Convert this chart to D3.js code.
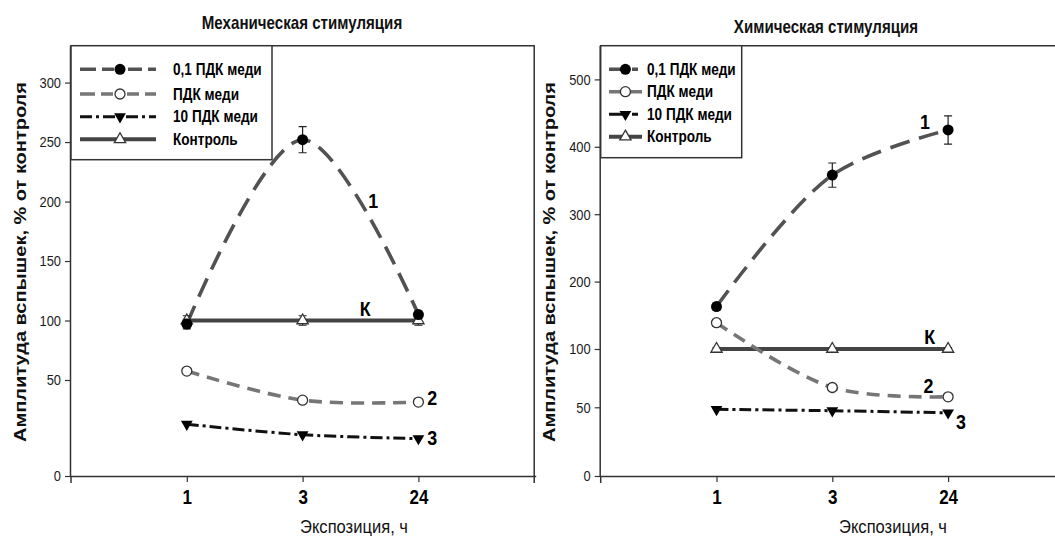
<!DOCTYPE html>
<html><head><meta charset="utf-8">
<script src="https://cdn.jsdelivr.net/npm/d3@7"></script>
<style>
body{margin:0;background:#fff;}
svg{display:block;}
</style></head>
<body>
<svg id="chart" width="1055" height="536"></svg>
<script>
// ---------- DATA ----------
const categories = ["1", "3", "24"];
const seriesNames = ["0,1 ПДК меди", "ПДК меди", "10 ПДК меди", "Контроль"];

const mechTicks = [0, 50, 100, 150, 200, 250, 300];
const mechLow = [97, 252, 105];
const mechLowErr = [4, 11, 3];
const mechPdk = [57.5, 39.5, 38.5];
const mechPdkErr = [2, 1, 1];
const mech10 = [27, 21.5, 19.5];
const mechCtrl = [100, 100, 100];
const mechCtrlErr = [4, 4, 4];

const chemTicks = [0, 50, 100, 200, 300, 400, 500];
const chemLow = [163, 358, 425];
const chemLowErr = [5, 18, 21];
const chemPdk = [139, 67, 59];
const chemPdkErr = [5, 1, 1];
const chem10 = [48.5, 47.5, 46];
const chemCtrl = [100, 100, 100];
const chemCtrlErr = [2, 2, 2];

const curveLabels = ["1", "2", "3", "К"];

// ---------- DRAW ----------
const svg = d3.select("#chart");
const FONT = "'Liberation Sans',Arial,sans-serif";
const NX = 0.85; // horizontal squeeze to imitate a narrow face

const styles = [
  {stroke:"#525252", width:3.6, dash:"20,10", marker:"circleFill"},
  {stroke:"#767676", width:3.6, dash:"13,8", marker:"circleOpen"},
  {stroke:"#111", width:3, dash:"12,4,3,4", marker:"triDown"},
  {stroke:"#444", width:4, dash:null, marker:"triUp"}
];

function txt(g, x, y, str, size, weight, anchor, sx) {
  return g.append("text").attr("transform", `translate(${x},${y}) scale(${sx},1)`)
    .attr("text-anchor", anchor).attr("font-family", FONT).attr("font-size", size)
    .attr("font-weight", weight).attr("fill", "#111").text(str);
}

function drawMarker(g, type, x, y) {
  if (type === "circleFill") {
    g.append("circle").attr("cx", x).attr("cy", y).attr("r", 5.5).attr("fill", "#000");
  } else if (type === "circleOpen") {
    g.append("circle").attr("cx", x).attr("cy", y).attr("r", 5).attr("fill", "#fff").attr("stroke", "#333").attr("stroke-width", 1.3);
  } else if (type === "triDown") {
    g.append("path").attr("d", d3.symbol(d3.symbolTriangle, 60)()).attr("transform", `translate(${x},${y}) rotate(180)`).attr("fill", "#000");
  } else {
    g.append("path").attr("d", d3.symbol(d3.symbolTriangle, 55)()).attr("transform", `translate(${x},${y})`).attr("fill", "#fff").attr("stroke", "#333").attr("stroke-width", 1.3);
  }
}

function panel(cfg) {
  const g = svg.append("g");
  const x = d3.scaleLinear().domain([0, 1]).range([cfg.left, cfg.left + cfg.step]);
  const y = d3.scaleLinear().domain(cfg.yDomain).range(cfg.yRange);
  const top = cfg.yRange[cfg.yRange.length - 1], bottom = cfg.yRange[0];
  const right = cfg.right != null ? cfg.right : x(4);

  // frame
  g.append("path").attr("d", `M${cfg.left},${top}H${right}` + (cfg.closeRight ? `V${bottom + 7}` : ""))
    .attr("fill", "none").attr("stroke", "#333").attr("stroke-width", 1.5);

  // y axis
  const ya = g.append("g").attr("transform", `translate(${cfg.left},0)`)
    .call(d3.axisLeft(y).tickValues(cfg.ticks).tickSize(6).tickPadding(4));
  ya.select(".domain").attr("d", `M-0.5,${top}V${bottom}`).attr("stroke", "#333").attr("stroke-width", 1.5);
  ya.selectAll(".tick line").attr("stroke", "#333").attr("stroke-width", 1.2);
  ya.selectAll(".tick text").each(function() {
    const t = d3.select(this);
    t.attr("x", +t.attr("x") / 0.86).attr("transform", "scale(0.86,1)");
  }).attr("font-family", FONT).attr("font-size", 15).attr("fill", "#1a1a1a");

  // x axis
  const xa = g.append("g").attr("transform", `translate(0,${bottom})`)
    .call(d3.axisBottom(x).tickValues([1, 2, 3]).tickFormat((d) => categories[d - 1]).tickSize(6).tickPadding(8));
  xa.select(".domain").attr("d", `M${cfg.left},0.5H${right + 2}`).attr("stroke", "#333").attr("stroke-width", 1.5);
  xa.selectAll(".tick line").attr("stroke", "#333").attr("stroke-width", 1.2);
  xa.selectAll(".tick text").each(function() {
    const t = d3.select(this);
    const tx = +d3.select(this.parentNode).attr("transform").match(/translate\(([^,]+)/)[1];
    t.attr("transform", `scale(${NX},1)`);
  }).attr("font-family", FONT).attr("font-size", 20).attr("font-weight", "bold").attr("fill", "#000");
  g.append("line").attr("x1", cfg.left).attr("x2", cfg.left).attr("y1", bottom).attr("y2", bottom + 7).attr("stroke", "#333").attr("stroke-width", 1.5);

  // titles
  txt(g, cfg.titleX, cfg.titleY, cfg.title, 18, "bold", "middle", 0.84);
  txt(g, cfg.xLabelX, 533, "Экспозиция, ч", 18, "normal", "middle", 0.92);
  g.append("text").attr("transform", `translate(${cfg.yLabelX},262) rotate(-90)`).attr("text-anchor", "middle")
    .attr("font-family", FONT).attr("font-weight", "bold").attr("font-size", 17).attr("fill", "#111")
    .attr("textLength", 360).attr("lengthAdjust", "spacingAndGlyphs")
    .text("Амплитуда вспышек, % от контроля");

  const line = d3.line().x((d, i) => x(i + 1)).y((d) => y(d)).curve(d3.curveCatmullRom.alpha(0.5));
  const order = [3, 2, 1, 0];
  order.forEach((si) => {
    const s = styles[si];
    g.append("path").attr("d", line(cfg.series[si])).attr("fill", "none").attr("stroke", s.stroke)
      .attr("stroke-width", s.width).attr("stroke-dasharray", s.dash);
  });
  order.forEach((si) => {
    const vals = cfg.series[si], errs = cfg.errs[si];
    vals.forEach((v, i) => {
      if (errs && errs[i] > 1.5) {
        const cx = x(i + 1), y1 = y(v - errs[i]), y2 = y(v + errs[i]);
        g.append("path").attr("d", `M${cx},${y1}V${y2}M${cx - 4},${y1}H${cx + 4}M${cx - 4},${y2}H${cx + 4}`)
          .attr("stroke", "#222").attr("stroke-width", 1.2).attr("fill", "none");
      }
      drawMarker(g, styles[si].marker, x(i + 1), y(v));
    });
  });

  // curve labels
  cfg.labels.forEach((l, k) => {
    txt(g, x(l.xv), y(l.yv) + 7.5, curveLabels[k], 21, "bold", "middle", NX).attr("fill", "#000");
  });

  // legend
  const L = cfg.legend;
  g.append("rect").attr("x", cfg.left).attr("y", top).attr("width", L.w).attr("height", L.h)
    .attr("fill", "#fff").attr("stroke", "#333").attr("stroke-width", 1.5);
  seriesNames.forEach((name, i) => {
    const ly = L.rows[i];
    const s = styles[i];
    g.append("line").attr("x1", L.x1).attr("x2", L.x2).attr("y1", ly).attr("y2", ly)
      .attr("stroke", s.stroke).attr("stroke-width", s.width).attr("stroke-dasharray", L.dash[i]);
    drawMarker(g, s.marker, L.mx, ly);
    txt(g, L.tx, ly + 5.5, name, 16, "bold", "start", NX).attr("fill", "#000");
  });
}

panel({
  left: 71, step: 115.8, closeRight: true,
  yDomain: [0, 50, 331], yRange: [476, 380, 45.7], ticks: mechTicks,
  title: "Механическая стимуляция", titleX: 302, titleY: 29,
  xLabelX: 354, yLabelX: 25.5,
  series: [mechLow, mechPdk, mech10, mechCtrl],
  errs: [mechLowErr, mechPdkErr, null, mechCtrlErr],
  labels: [{xv: 2.61, yv: 201}, {xv: 3.12, yv: 41}, {xv: 3.12, yv: 20.3}, {xv: 2.54, yv: 110.5}],
  legend: {w: 201, h: 114, rows: [69.3, 94, 116.7, 139.3], x1: 80, x2: 156, mx: 120, tx: 173,
           dash: ["16,6,12,14,14,6,16", "15,6,12,14,12,6,15", "12,4,3,4,12,4,3,4,12,4,3,4", null]}
});

panel({
  left: 600.7, step: 115.8, right: 1056, closeRight: false,
  yDomain: [0, 50, 100, 550], yRange: [476, 407.3, 349, 45.7], ticks: chemTicks,
  title: "Химическая стимуляция", titleX: 826, titleY: 33,
  xLabelX: 893, yLabelX: 554.5,
  series: [chemLow, chemPdk, chem10, chemCtrl],
  errs: [chemLowErr, chemPdkErr, null, chemCtrlErr],
  labels: [{xv: 2.8, yv: 438}, {xv: 2.83, yv: 69}, {xv: 3.11, yv: 40}, {xv: 2.84, yv: 119}],
  legend: {w: 141, h: 112, rows: [69.3, 91.7, 114.3, 136.7], x1: 609, x2: 642, mx: 625.4, tx: 647,
           dash: ["14,9,6,10", null, "14,9,6,10", null]}
});
</script>
</body></html>
